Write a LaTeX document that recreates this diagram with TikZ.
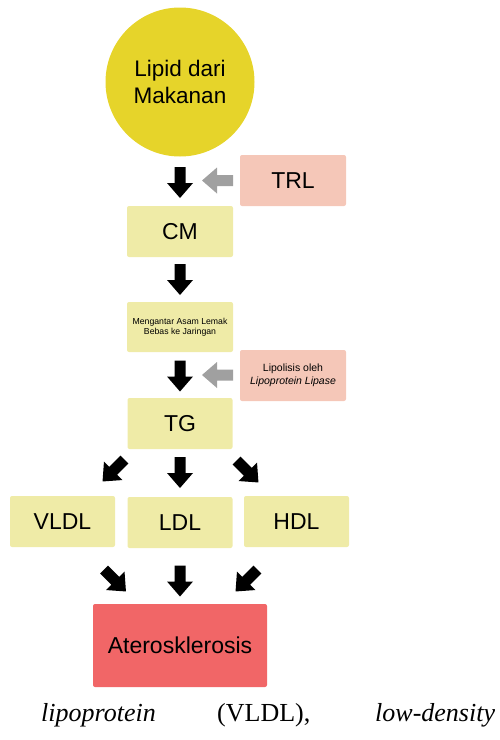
\documentclass[tikz,border=0pt]{standalone}
\usepackage{fontspec}
\setmainfont{Liberation Sans}
\newfontfamily\serifbody{Liberation Serif}
\definecolor{lipidyellow}{HTML}{E6D42A}
\definecolor{boxyellow}{HTML}{EFEBA7}
\definecolor{boxpink}{HTML}{F5C7B8}
\definecolor{boxred}{HTML}{F16667}
\definecolor{arrgray}{HTML}{A0A0A0}
\tikzset{
  ybox/.style={rectangle, rounded corners=2pt, fill=boxyellow, minimum width=106pt, minimum height=51pt, inner sep=0pt, align=center, font=\fontsize{23}{27}\selectfont},
  pbox/.style={rectangle, rounded corners=2pt, fill=boxpink, minimum width=106pt, minimum height=51pt, inner sep=0pt, align=center, font=\fontsize{23}{27}\selectfont},
  blockarr/.pic={\fill[#1] (-15.5,-5.5) -- (0.5,-5.5) -- (0.5,-13) -- (15.5,0) -- (0.5,13) -- (0.5,5.5) -- (-15.5,5.5) -- cycle;},
  blockarr/.default=black,
  bodytext/.style={anchor=base west, inner sep=0pt, font=\serifbody\fontsize{26}{30}\selectfont}
}
\begin{document}
\begin{tikzpicture}[x=1pt,y=-1pt]
\useasboundingbox (0,0) rectangle (500,740);
% nodes
\node[circle, fill=lipidyellow, minimum size=149pt, inner sep=0pt, align=center, font=\fontsize{22.5}{27}\selectfont] (lipid) at (180,82) {Lipid dari\\Makanan};
\node[pbox] (trl) at (293,180.5) {TRL};
\node[ybox] (cm) at (180,231.5) {CM};
\node[ybox, minimum height=50pt, font=\fontsize{8.7}{10}\selectfont] (meng) at (180,327) {Mengantar Asam Lemak\\Bebas ke Jaringan};
\node[pbox, font=\fontsize{10.5}{12.5}\selectfont] (lipo) at (293,375.5) {Lipolisis oleh\\\textit{Lipoprotein Lipase}};
\node[ybox, minimum width=105pt] (tg) at (180,423.5) {TG};
\node[ybox, minimum width=105pt] (vldl) at (62.5,521.5) {VLDL};
\node[ybox, minimum width=105pt] (ldl) at (180,522.5) {LDL};
\node[ybox, minimum width=105pt] (hdl) at (296.5,521.5) {HDL};
\node[rectangle, rounded corners=2pt, fill=boxred, minimum width=174pt, minimum height=83pt, inner sep=0pt, font=\fontsize{23}{27}\selectfont] (ater) at (180,645.5) {Aterosklerosis};
% block arrows
\pic[rotate=-90] at (180,182.5) {blockarr};
\pic[rotate=180] at (217.5,180.5) {blockarr=arrgray};
\pic[rotate=-90] at (180,279.5) {blockarr};
\pic[rotate=-90] at (180,376) {blockarr};
\pic[rotate=180] at (217.5,375) {blockarr=arrgray};
\pic[rotate=-135] at (113.5,470.5) {blockarr};
\pic[rotate=-90] at (180,472.5) {blockarr};
\pic[rotate=-45] at (247.5,471.5) {blockarr};
\pic[rotate=-45] at (115,580.5) {blockarr};
\pic[rotate=-90] at (180,581) {blockarr};
\pic[rotate=-135] at (246.5,580.5) {blockarr};
% body text
\node[bodytext] (t1) at (41,721) {\textit{lipoprotein}};
\node[bodytext] (t2) at (217,721) {(VLDL),};
\node[bodytext] (t3) at (375,721) {\textit{low-density}};
\end{tikzpicture}
\end{document}
